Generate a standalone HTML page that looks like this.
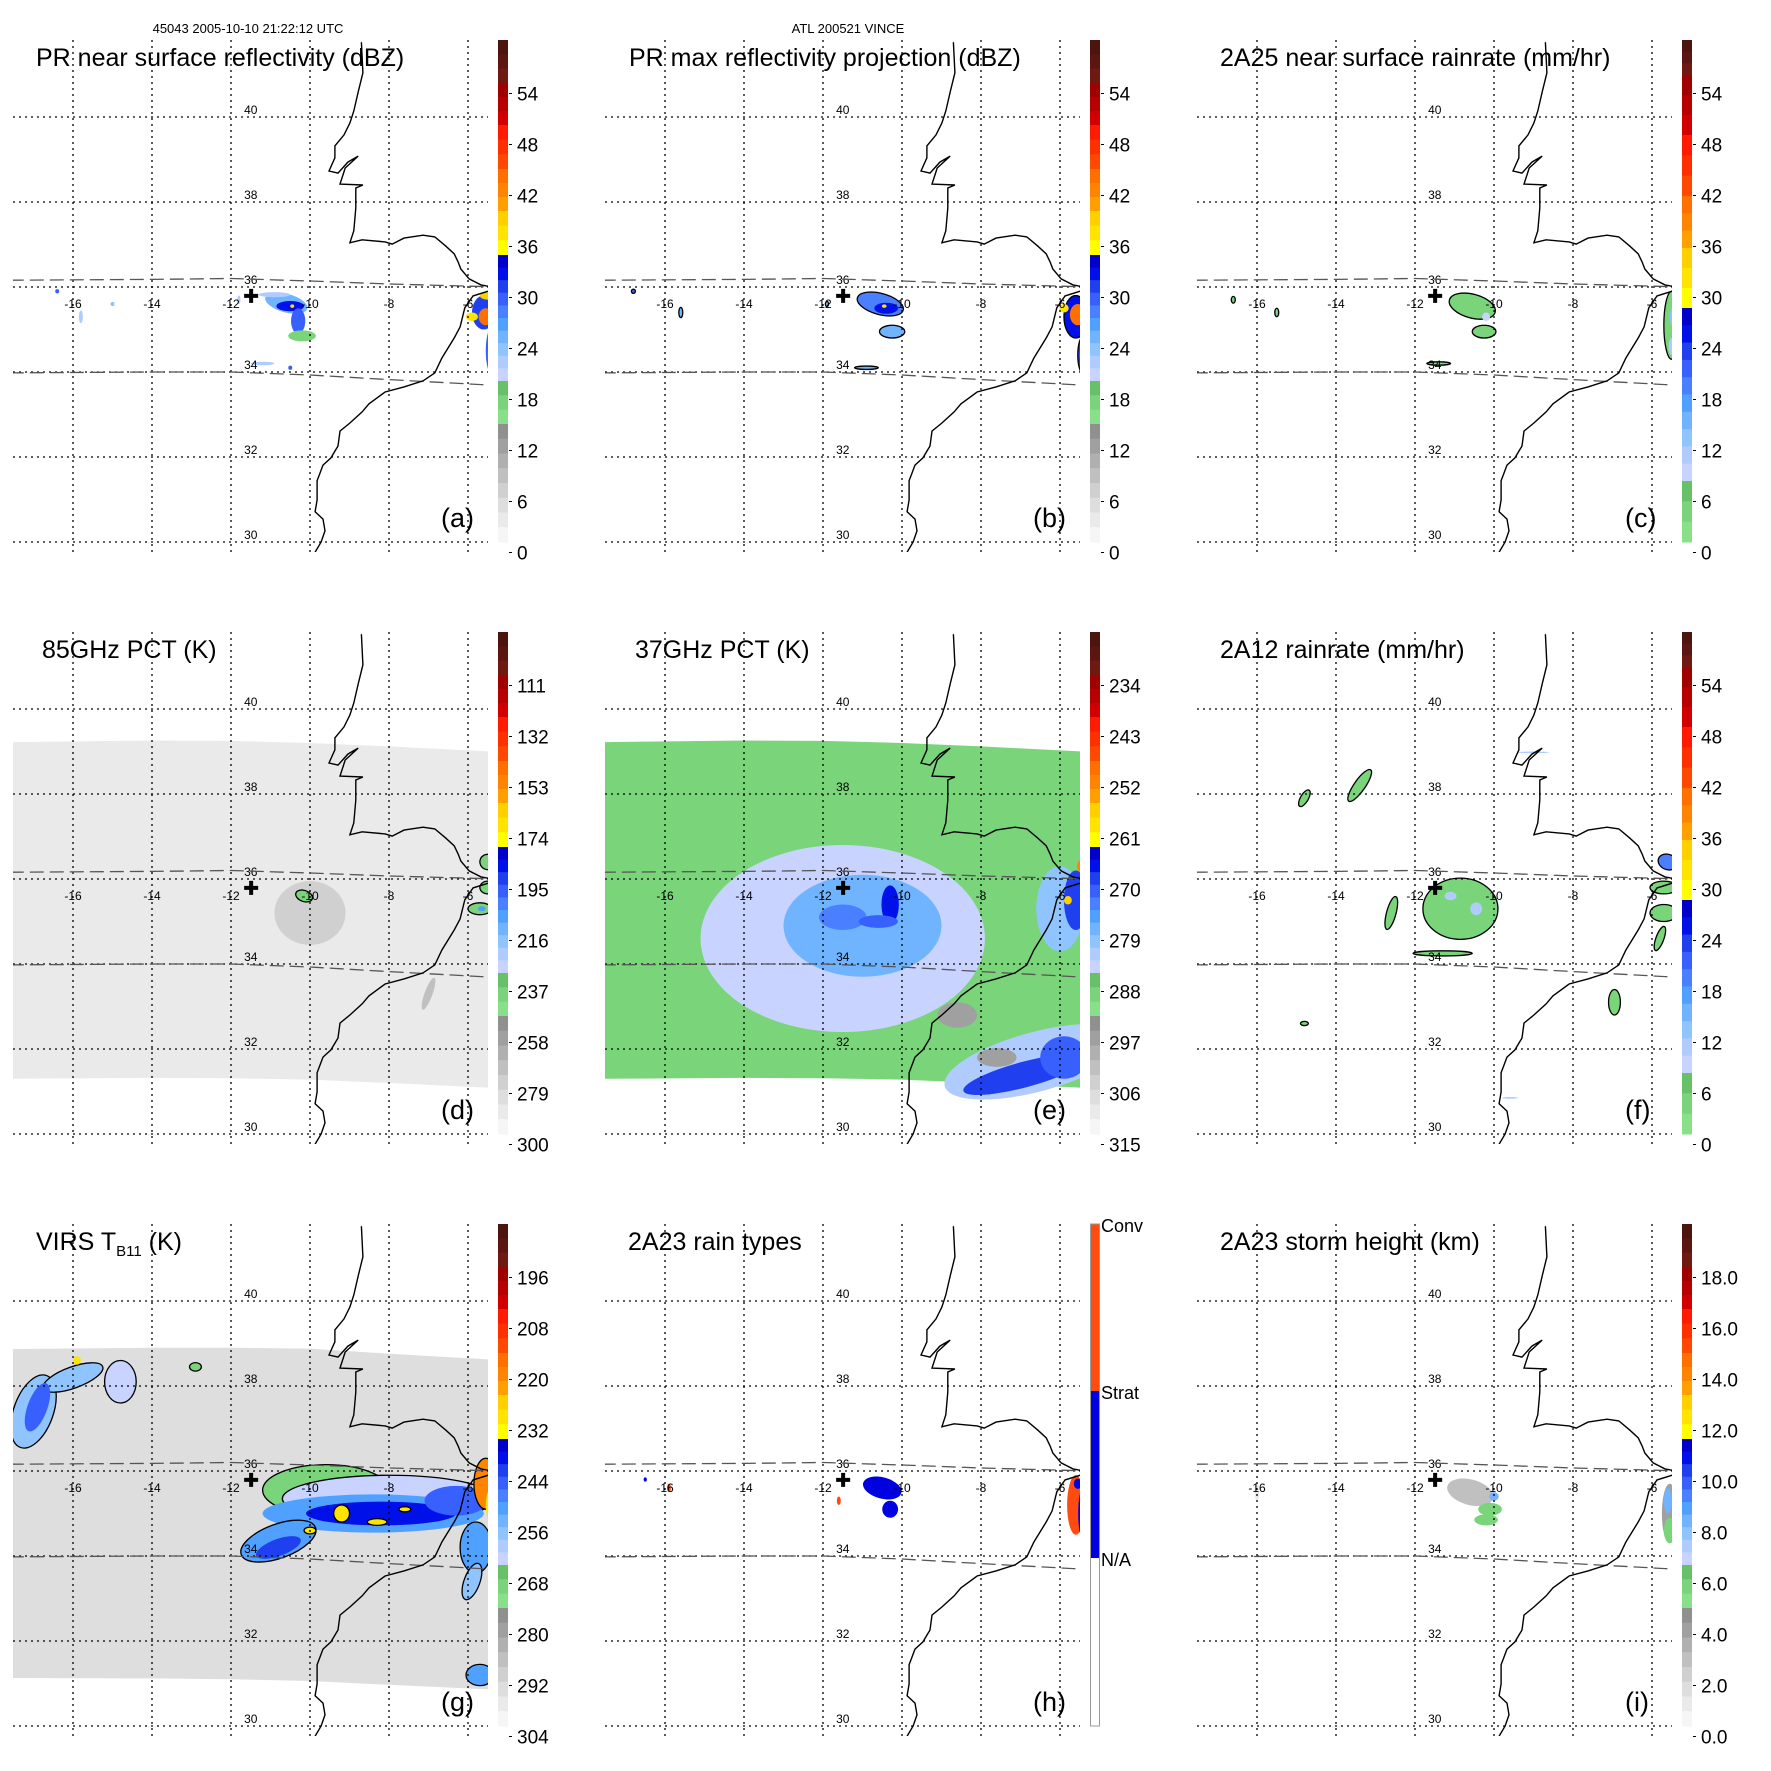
<!DOCTYPE html>
<html><head><meta charset="utf-8"><title>TRMM Vince overpass</title>
<style>
html,body{margin:0;padding:0;background:#fff;}
svg{display:block;font-family:"Liberation Sans",Arial,sans-serif;}
</style></head>
<body>
<svg id="fig" xmlns="http://www.w3.org/2000/svg" width="1771" height="1771" viewBox="0 0 1771 1771">
<rect x="0" y="0" width="1771" height="1771" fill="#fff"/>
<text x="248" y="33" font-size="13" text-anchor="middle">45043 2005-10-10 21:22:12 UTC</text>
<text x="848" y="33" font-size="13" text-anchor="middle">ATL 200521 VINCE</text>
</svg>
<script>
// ---- data ----
const lonTicks = [-16,-14,-12,-10,-8,-6];
const latTicks = [30,32,34,36,38,40];
const coastPortugalLon = [-8.70,-8.66,-8.78,-8.89,-8.99,-9.14,-9.37,-9.37,-9.52,-9.29,-9.04,-8.78,-9.11,-9.24,-8.66,-8.84,-8.84,-8.89,-8.99,-8.68,-8.10,-7.92,-7.62,-7.14,-6.84,-6.56,-6.35,-6.25,-6.18,-5.97,-5.67,-5.39];
const coastPortugalLat = [41.76,41.04,40.59,40.14,39.86,39.58,39.32,39.04,38.73,38.68,38.94,39.08,38.80,38.42,38.40,38.33,37.86,37.32,37.04,37.11,37.06,37.01,37.15,37.22,37.18,36.96,36.78,36.59,36.42,36.19,36.05,36.00];
const coastAfricaLon = [-5.39,-5.87,-6.08,-6.20,-6.35,-6.66,-6.84,-7.14,-7.62,-8.10,-8.51,-8.68,-8.99,-9.24,-9.29,-9.47,-9.67,-9.82,-9.82,-9.87,-9.67,-9.62,-9.72,-9.87];
const coastAfricaLat = [35.93,35.79,35.51,35.06,34.80,34.33,33.98,33.79,33.65,33.53,33.25,33.06,32.80,32.61,32.26,31.98,31.81,31.44,30.99,30.71,30.54,30.26,30.00,29.76];
const prSwathLon = [-17.6,-14,-12,-10,-8,-5.2];
const prSwathTopLat = [36.16,36.18,36.2,36.14,36.07,36.0];
const prSwathBotLat = [33.98,34.0,34.0,33.93,33.82,33.68];
const tmiSwathLon = [-17.6,-14,-12,-10,-8,-5.2];
const tmiSwathTopLat = [39.22,39.26,39.25,39.2,39.12,38.99];
const tmiSwathBotLat = [31.30,31.32,31.31,31.28,31.2,31.08];
const virsSwathTopLat = [38.87,38.9,38.9,38.88,38.76,38.61];
const virsSwathBotLat = [31.13,31.12,31.1,31.06,30.97,30.85];
const stormCenter = [-11.49, 35.79];

const labelsDbz = ['54','48','42','36','30','24','18','12','6','0'];
const labels85 = ['111','132','153','174','195','216','237','258','279','300'];
const labels37 = ['234','243','252','261','270','279','288','297','306','315'];
const labelsRain = ['54','48','42','36','30','24','18','12','6','0'];
const labelsVirs = ['196','208','220','232','244','256','268','280','292','304'];
const labelsHeight = ['18.0','16.0','14.0','12.0','10.0','8.0','6.0','4.0','2.0','0.0'];
const labelsRainType = ['Conv','Strat','N/A'];

// blobs: [lon, lat, rxDeg, ryDeg, value, outlined, rotationDeg]
const blobsA = [
 [-10.6,35.62,0.55,0.22,26,0,15],[-10.5,35.55,0.35,0.12,33,0,0],[-10.3,35.2,0.18,0.3,30,0,0],
 [-10.2,34.85,0.35,0.13,17,0,0],[-10.9,35.82,0.4,0.06,22,0,0],[-10.45,35.55,0.05,0.04,38,0,0],
 [-5.6,35.4,0.3,0.4,32,0,0],[-5.55,35.3,0.18,0.2,44,0,0],[-5.4,34.5,0.15,0.55,30,0,0],
 [-5.42,34.4,0.08,0.3,42,0,0],[-5.9,35.3,0.15,0.1,38,0,0],[-5.5,35.8,0.2,0.1,40,0,0],
 [-16.4,35.9,0.05,0.05,30,0,0],[-15.8,35.3,0.05,0.15,22,0,0],[-15.0,35.6,0.05,0.05,24,0,0],
 [-11.8,35.7,0.04,0.1,22,0,0],[-11.2,34.2,0.3,0.04,22,0,0],[-10.5,34.1,0.05,0.05,30,0,0]
];
const blobsB = [
 [-10.55,35.6,0.6,0.25,28,1,15],[-10.4,35.5,0.3,0.13,33,0,0],[-10.45,35.55,0.06,0.04,38,0,0],
 [-10.25,34.95,0.32,0.15,26,1,0],[-5.6,35.3,0.3,0.5,33,1,0],[-5.55,35.35,0.2,0.25,44,0,0],
 [-5.4,34.4,0.15,0.45,32,1,0],[-5.42,34.4,0.08,0.25,42,0,0],[-5.9,35.5,0.12,0.1,38,0,0],
 [-16.8,35.9,0.05,0.05,30,1,0],[-15.6,35.4,0.05,0.12,26,1,0],[-10.9,34.1,0.3,0.04,26,1,0],
 [-11.9,35.6,0.04,0.06,26,1,0]
];
const blobsC = [
 [-10.55,35.55,0.6,0.28,4,1,15],[-10.25,34.95,0.3,0.15,4,1,0],[-10.2,35.3,0.1,0.1,10,0,0],
 [-5.5,35.1,0.2,0.8,4,1,0],[-5.45,35.3,0.1,0.25,14,0,0],[-5.5,34.6,0.08,0.2,12,0,0],
 [-16.6,35.7,0.05,0.08,4,1,0],[-15.5,35.4,0.05,0.1,4,1,0],[-11.4,34.2,0.3,0.04,4,1,0]
];
const blobsD = [
 [-10.0,35.2,0.9,0.75,274,0,0],[-10.15,35.6,0.22,0.13,237,1,20],[-5.7,35.3,0.3,0.14,237,1,0],
 [-5.5,35.8,0.2,0.15,237,1,0],[-5.5,36.4,0.2,0.18,237,1,20],[-5.65,35.3,0.1,0.06,205,0,0],
 [-7.0,33.3,0.1,0.4,270,0,20]
];
const blobsE = [
 [-11.5,34.6,3.6,2.2,283,0,0],[-11.0,34.9,2.0,1.2,278,0,0],[-11.5,35.1,0.6,0.3,272,0,0],
 [-10.3,35.4,0.22,0.45,266,0,0],[-10.6,35.0,0.5,0.15,270,0,0],
 [-6.0,35.3,0.6,1.0,280,0,0],[-5.6,35.5,0.3,0.7,268,0,0],[-5.45,36.3,0.12,0.15,252,0,0],
 [-5.8,35.5,0.1,0.1,256,0,0],[-6.6,31.7,2.4,0.7,281,0,-15],[-6.9,31.4,1.6,0.3,268,0,-15],
 [-5.9,31.8,0.6,0.5,270,0,0],[-8.6,32.8,0.5,0.3,295,0,0],[-7.6,31.8,0.5,0.22,295,0,0]
];
const blobsF = [
 [-10.85,35.3,0.95,0.72,4,1,0],[-11.1,35.6,0.15,0.1,12,0,0],[-10.45,35.3,0.15,0.15,12,0,0],
 [-12.6,35.2,0.12,0.4,4,1,15],[-14.8,37.9,0.1,0.22,4,1,30],[-13.4,38.2,0.14,0.45,4,1,35],
 [-11.3,34.25,0.75,0.06,4,1,0],[-5.7,35.8,0.35,0.15,4,1,0],[-5.7,35.2,0.35,0.2,4,1,0],
 [-5.6,36.4,0.25,0.18,20,1,20],[-6.95,33.1,0.15,0.3,4,1,0],[-5.8,34.6,0.1,0.3,4,1,20],
 [-9.0,38.98,0.4,0.02,12,0,0],[-9.6,30.85,0.2,0.02,12,0,0],[-14.8,32.6,0.1,0.05,4,1,0]
];
const blobsG = [
 [-9.6,35.55,1.6,0.6,268,1,0],[-8.0,35.35,2.7,0.55,261,1,0],[-8.4,35.0,2.8,0.45,249,0,0],
 [-8.2,35.0,1.9,0.28,238,0,0],[-10.8,34.35,1.0,0.4,250,1,-20],[-10.8,34.2,0.6,0.2,241,0,-20],
 [-9.2,35.0,0.2,0.2,228,1,0],[-8.3,34.8,0.25,0.08,228,1,0],[-7.6,35.1,0.15,0.06,228,1,0],
 [-10.0,34.6,0.15,0.08,228,1,0],[-6.3,35.3,0.8,0.35,245,0,0],[-5.8,34.2,0.4,0.6,250,1,0],
 [-5.9,33.4,0.2,0.45,255,1,20],[-5.55,35.7,0.3,0.6,219,1,0],[-5.4,35.2,0.15,0.4,228,0,0],
 [-5.7,31.2,0.35,0.25,250,1,0],[-17.0,37.4,0.5,0.9,256,1,20],[-16.0,38.2,0.8,0.25,256,1,-20],
 [-16.9,37.5,0.25,0.6,245,0,20],[-14.8,38.1,0.4,0.5,262,1,0],[-12.9,38.45,0.15,0.1,268,1,0],
 [-15.9,38.6,0.1,0.1,228,0,0]
];
const blobsH = [
 [-10.5,35.6,0.5,0.25,1,0,15],[-10.3,35.1,0.2,0.2,1,0,0],[-5.6,35.2,0.22,0.7,2,0,0],
 [-5.42,35.0,0.12,0.6,1,0,0],[-5.55,35.7,0.1,0.12,1,0,0],[-15.9,35.6,0.05,0.1,2,0,0],
 [-16.5,35.8,0.04,0.05,1,0,0],[-11.6,35.3,0.05,0.1,2,0,0]
];
const blobsI = [
 [-10.6,35.5,0.6,0.3,3.2,0,15],[-10.1,35.1,0.3,0.15,6,0,0],[-10.2,34.85,0.3,0.13,6,0,0],
 [-10.0,35.4,0.12,0.1,8.5,0,0],[-5.55,35.0,0.2,0.7,4,0,0],[-5.6,35.3,0.1,0.3,8.5,0,0],
 [-5.55,34.6,0.15,0.3,6,0,0],[-16.0,35.5,0.06,0.2,1.2,0,0]
];

// ---- styles ----
const bandsA = [[40,83,['#4e1410','#5c1612','#6e1a12']],[83,125,['#a00000','#b80000','#d00000']],
 [125,169,['#ff1a00','#ff3000','#ff4800']],[169,211,['#ff7000','#ff8400','#ffa000']],
 [211,255,['#ffd000','#ffe400','#ffff00']],
 [255,381,['#0000c8','#0010e8','#2040f0','#3860ff','#4a80ff','#50a0ff','#70b4ff','#90c4ff','#b0ccff','#c8d4ff']],
 [381,424,['#68c068','#7ad47a','#88e088']],
 [424,542,['#909090','#a0a0a0','#b0b0b0','#c0c0c0','#d0d0d0','#dedede','#eaeaea','#f6f6f6']]];
const bandsC = [[40,75,['#4e1410','#5c1612','#6e1a12']],[75,135,['#a00000','#b80000','#d00000']],
 [135,196,['#ff1a00','#ff3000','#ff4800']],[196,248,['#ff7000','#ff8400','#ffa000']],
 [248,308,['#ffd000','#ffe400','#ffff00']],
 [308,481,['#0000c8','#0010e8','#2040f0','#3860ff','#4a80ff','#50a0ff','#70b4ff','#90c4ff','#b0ccff','#c8d4ff']],
 [481,542,['#68c068','#7ad47a','#88e088']]];
const bandsH = [[40,207,['#ff4a10']],[207,374,['#0000e0']],[374,542,['#ffffff']]];

const NS='http://www.w3.org/2000/svg';
const svg=document.getElementById('fig');
function mk(tag,attrs,parent){const e=document.createElementNS(NS,tag);for(const k in attrs)e.setAttribute(k,attrs[k]);parent.appendChild(e);return e;}
const X=lon=>231+(lon+12)*39.5;
const Y=lat=>287-(lat-36)*42.5;
function bandColor(bands,y){
  for(const b of bands){ if(y>=b[0]&&y<=b[1]){const n=b[2].length;let i=Math.floor((y-b[0])/(b[1]-b[0])*n);if(i>=n)i=n-1;return b[2][i];} }
  return y<40?bands[0][2][0]:'#ffffff';
}
function valueY(labels,v){const L0=parseFloat(labels[0]),L1=parseFloat(labels[1]);return 93.5+(v-L0)/(L1-L0)*51;}

const panels=[
 {id:'a',col:0,row:0,title:'PR near surface reflectivity (dBZ)',tx:36,labels:labelsDbz,bands:bandsA,blobs:blobsA,swath:null},
 {id:'b',col:1,row:0,title:'PR max reflectivity projection (dBZ)',tx:37,labels:labelsDbz,bands:bandsA,blobs:blobsB,swath:null},
 {id:'c',col:2,row:0,title:'2A25 near surface rainrate (mm/hr)',tx:36,labels:labelsRain,bands:bandsC,blobs:blobsC,swath:null},
 {id:'d',col:0,row:1,title:'85GHz PCT (K)',tx:42,labels:labels85,bands:bandsA,blobs:blobsD,swath:'tmi',swathVal:284},
 {id:'e',col:1,row:1,title:'37GHz PCT (K)',tx:43,labels:labels37,bands:bandsA,blobs:blobsE,swath:'tmi',swathVal:288},
 {id:'f',col:2,row:1,title:'2A12 rainrate (mm/hr)',tx:36,labels:labelsRain,bands:bandsC,blobs:blobsF,swath:null},
 {id:'g',col:0,row:2,title:'VIRS',tx:36,labels:labelsVirs,bands:bandsA,blobs:blobsG,swath:'virs',swathVal:293},
 {id:'h',col:1,row:2,title:'2A23 rain types',tx:36,labels:labelsRainType,bands:bandsH,blobs:blobsH,swath:null},
 {id:'i',col:2,row:2,title:'2A23 storm height (km)',tx:36,labels:labelsHeight,bands:bandsA,blobs:blobsI,swath:null}
];

function pathFrom(lons,lats){return lons.map((l,i)=>(i?'L':'M')+X(l).toFixed(1)+','+Y(lats[i]).toFixed(1)).join(' ');}

panels.forEach(p=>{
  const g=mk('g',{transform:`translate(${p.col*592},${p.row*592})`},svg);
  
  
  const cp=mk('clipPath',{id:'clip-'+p.id},g);
  mk('rect',{x:13,y:38,width:475,height:514},cp);
  const map=mk('g',{'clip-path':`url(#clip-${p.id})`},g);
  
  
  if(p.swath){
    const top=p.swath==='tmi'?tmiSwathTopLat:virsSwathTopLat;
    const bot=p.swath==='tmi'?tmiSwathBotLat:virsSwathBotLat;
    const d=pathFrom(tmiSwathLon,top)+' '+pathFrom(tmiSwathLon.slice().reverse(),bot.slice().reverse()).replace('M','L')+' Z';
    const sw=mk('path',{d:d,fill:bandColor(p.bands,valueY(p.labels,p.swathVal))},map);
    
    
  }
  p.blobs.forEach(b=>{
    let col;
    if(p.id==='h'){col=b[4]===2?'#ff4a10':'#0000e0';}
    else col=bandColor(p.bands,valueY(p.labels,b[4]));
    const e=mk('ellipse',{cx:X(b[0]),cy:Y(b[1]),rx:b[2]*39.5,ry:b[3]*42.5,fill:col,
      transform:`rotate(${b[6]||0} ${X(b[0])} ${Y(b[1])})`},map);
    if(b[5]){e.setAttribute('stroke','#000');e.setAttribute('stroke-width','1.3');}
    
    
  });
  lonTicks.forEach(lon=>{
    const l=mk('line',{x1:X(lon),x2:X(lon),y1:40,y2:552,stroke:'#000','stroke-width':1.3,'stroke-dasharray':'2,4'},map);
    
    
    const t=mk('text',{x:X(lon),y:308,'font-size':12,'text-anchor':'middle'},map);
    t.textContent=String(lon);
    
    
  });
  latTicks.forEach(lat=>{
    const l=mk('line',{x1:13,x2:488,y1:Y(lat),y2:Y(lat),stroke:'#000','stroke-width':1.3,'stroke-dasharray':'2,4'},map);
    
    
    const t=mk('text',{x:X(-11.5),y:Y(lat)-3,'font-size':12,'text-anchor':'middle'},map);
    t.textContent=String(lat);
    
    
  });
  [prSwathTopLat,prSwathBotLat].forEach(lats=>{
    const s=mk('path',{d:pathFrom(prSwathLon,lats),fill:'none',stroke:'#555','stroke-width':1.3,'stroke-dasharray':'14,6'},map);
    
    
  });
  [[coastPortugalLon,coastPortugalLat],[coastAfricaLon,coastAfricaLat]].forEach(c=>{
    const s=mk('path',{d:pathFrom(c[0],c[1]),fill:'none',stroke:'#000','stroke-width':1.4},map);
    
    
  });
  const cx=X(stormCenter[0]),cy=Y(stormCenter[1]);
  const cross=mk('path',{d:`M${cx-7},${cy} L${cx+7},${cy} M${cx},${cy-7} L${cx},${cy+7}`,stroke:'#000','stroke-width':4},map);
  
  
  const tt=mk('text',{x:p.tx,y:66,'font-size':25},g);
  if(p.id==='g'){
    tt.textContent='VIRS T';
    const s=mk('tspan',{'font-size':15,dy:6},tt);s.textContent='B11';
    const s2=mk('tspan',{dy:-6},tt);s2.textContent=' (K)';
  } else tt.textContent=p.title;
  
  
  const lt=mk('text',{x:441,y:527,'font-size':27},g);
  lt.textContent='('+p.id+')';
  
  
  const cb=mk('g',{},g);
  
  
  p.bands.forEach(b=>{
    const n=b[2].length,h=(b[1]-b[0])/n;
    b[2].forEach((c,i)=>{mk('rect',{x:498,y:b[0]+i*h,width:10,height:h+0.5,fill:c},cb);});
  });
  if(p.id==='h'){
    mk('rect',{x:498.5,y:40,width:9,height:502,fill:'none',stroke:'#999','stroke-width':1},cb);
    p.labels.forEach((l,i)=>{
      const t=mk('text',{x:509,y:48+i*167,'font-size':18},cb);
      t.textContent=l;
      
      
    });
  } else {
    p.labels.forEach((l,i)=>{
      const y=93.5+i*51;
      mk('line',{x1:509,x2:512,y1:y,y2:y,stroke:'#000','stroke-width':1},cb);
      const t=mk('text',{x:517,y:y+7,'font-size':19},cb);
      t.textContent=l;
      
      
    });
  }
});
</script>
</body></html>
